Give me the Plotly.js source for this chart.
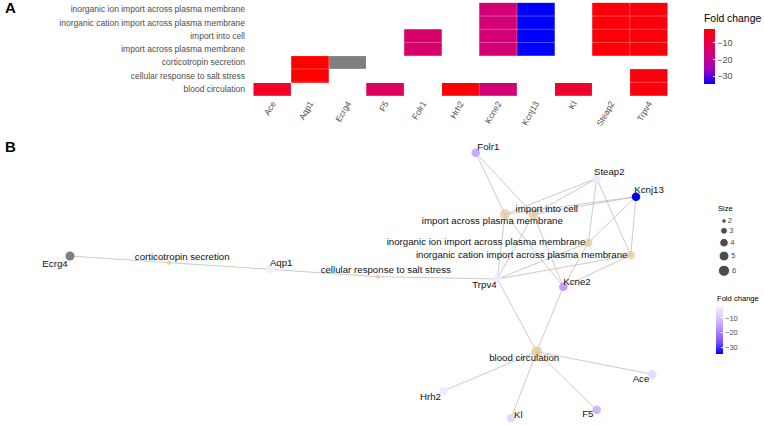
<!DOCTYPE html>
<html>
<head>
<meta charset="utf-8">
<script src="https://cdn.plot.ly/plotly-3.0.1.min.js"></script>
<style>html,body{margin:0;padding:0;background:#fff;}#chart{width:764px;height:425px;}</style>
</head>
<body>
<div id="chart"></div>
<script>
// ---------- data ----------
const terms = [
  'inorganic ion import across plasma membrane',
  'inorganic cation import across plasma membrane',
  'import into cell',
  'import across plasma membrane',
  'corticotropin secretion',
  'cellular response to salt stress',
  'blood circulation'
];
const genes = ['Ace','Aqp1','Ecrg4','F5','Folr1','Hrh2','Kcne2','Kcnj13','Kl','Steap2','Trpv4'];
const foldChange = [-6.0, -1.8, null, -12.5, -14.0, -2.5, -15.5, -34.7, -6.5, -2.8, -3.0];
const termGenes = [
  ['Kcne2','Kcnj13','Steap2','Trpv4'],
  ['Kcne2','Kcnj13','Steap2','Trpv4'],
  ['Folr1','Kcne2','Kcnj13','Steap2','Trpv4'],
  ['Folr1','Kcne2','Kcnj13','Steap2','Trpv4'],
  ['Aqp1','Ecrg4'],
  ['Aqp1','Trpv4'],
  ['Ace','F5','Hrh2','Kcne2','Kl','Trpv4']
];
const colorTicks = [-10, -20, -30];
const sizeLegendValues = [2, 3, 4, 5, 6];

// network layout (graph layout coordinates from the force layout)
const termNodeX  = [588.3, 630.7, 533.3, 505.0, 169.0, 377.7, 536.7];
const termNodeY  = [242.7, 255.3, 214.3, 214.3, 262.7, 276.7, 351.7];
const termLabelX = [486.0, 521.7, 546.8, 492.3, 182.2, 385.8, 524.2];
const termLabelY = [242.7, 255.7, 209.3, 221.7, 257.3, 271.0, 358.3];
const geneNodeX  = [652.3, 270.0, 70.0, 596.7, 475.7, 443.3, 563.3, 636.0, 511.0, 596.7, 497.3];
const geneNodeY  = [374.3, 269.3, 256.0, 410.0, 152.7, 391.0, 286.7, 196.7, 418.3, 178.3, 279.0];
const geneLabelX = [641.0, 281.2, 55.0, 587.8, 488.3, 430.5, 577.0, 649.0, 518.3, 609.3, 484.5];
const geneLabelY = [379.3, 264.0, 265.0, 414.3, 147.3, 397.3, 282.3, 191.0, 415.7, 172.7, 285.3];

// ---------- styles ----------
const W = 764, H = 425;
const FONT = 'Arial, "Liberation Sans", sans-serif';
const GRAY_TXT = '#4d4d4d';
const heatScale = [[0,'#0000FF'],[0.25,'rgb(154,0,195)'],[0.5,'rgb(202,0,137)'],[0.75,'rgb(229,0,77)'],[1,'#FF0000']];
const netScale  = [[0,'#0000FF'],[0.25,'rgb(126,81,255)'],[0.5,'rgb(179,139,255)'],[0.75,'rgb(220,197,255)'],[1,'rgb(243,239,255)']];
const fcVals = foldChange.filter(v => v !== null);
const fcMin = Math.min(...fcVals), fcMax = Math.max(...fcVals);
const sizePx = n => Math.sqrt(20 + 26 * (n - 2));
const px = v => v / W, py = v => 1 - v / H;

// ---------- heatmap ----------
const z = terms.map((t, i) => genes.map((g, j) => termGenes[i].includes(g) && foldChange[j] !== null ? foldChange[j] : null));
const zNA = terms.map((t, i) => genes.map((g, j) => termGenes[i].includes(g) && foldChange[j] === null ? 1 : null));

const traces = [];
traces.push({
  type: 'heatmap', x: genes, y: terms, z: z, xaxis: 'x', yaxis: 'y',
  colorscale: heatScale, zmin: fcMin, zmax: fcMax, hoverongaps: false,
  colorbar: {
    x: px(704), xanchor: 'left', y: py(29), yanchor: 'top',
    len: 55, lenmode: 'pixels', thickness: 11, thicknessmode: 'pixels',
    outlinewidth: 0, xpad: 0, ypad: 0, tickvals: colorTicks,
    ticks: 'inside', ticklen: 2, tickcolor: 'white',
    tickfont: {family: FONT, size: 9, color: GRAY_TXT}
  }
});
traces.push({
  type: 'heatmap', x: genes, y: terms, z: zNA, xaxis: 'x', yaxis: 'y',
  colorscale: [[0,'#7f7f7f'],[1,'#7f7f7f']], showscale: false, hoverongaps: false
});

// ---------- network ----------
const geneIdx = {}; genes.forEach((g, j) => geneIdx[g] = j);
const ex = [], ey = [];
termGenes.forEach((gl, i) => gl.forEach(g => {
  const j = geneIdx[g];
  ex.push(termNodeX[i], geneNodeX[j], null);
  ey.push(termNodeY[i], geneNodeY[j], null);
}));
traces.push({type:'scatter', mode:'lines', x: ex, y: ey, xaxis:'x2', yaxis:'y2',
  line: {color:'rgb(190,190,190)', width: 0.8}, hoverinfo:'skip', showlegend:false});
traces.push({type:'scatter', mode:'markers', x: termNodeX, y: termNodeY, xaxis:'x2', yaxis:'y2',
  marker: {color:'#E6C490', size: termGenes.map(g => sizePx(g.length)), line:{width:0}}, showlegend:false});
const okIdx = genes.map((g, j) => j).filter(j => foldChange[j] !== null);
const naIdx = genes.map((g, j) => j).filter(j => foldChange[j] === null);
traces.push({type:'scatter', mode:'markers', x: naIdx.map(j => geneNodeX[j]), y: naIdx.map(j => geneNodeY[j]),
  xaxis:'x2', yaxis:'y2', marker:{color:'#7f7f7f', size: 9, line:{width:0}}, showlegend:false});
traces.push({type:'scatter', mode:'markers', x: okIdx.map(j => geneNodeX[j]), y: okIdx.map(j => geneNodeY[j]),
  xaxis:'x2', yaxis:'y2',
  marker:{color: okIdx.map(j => foldChange[j]), colorscale: netScale, cmin: fcMin, cmax: fcMax, size: 8.5, line:{width:0},
    showscale: true,
    colorbar: {x: px(716), xanchor:'left', y: py(306), yanchor:'top', len: 48, lenmode:'pixels',
      thickness: 7, thicknessmode:'pixels', outlinewidth: 0, xpad: 0, ypad: 0, tickvals: colorTicks,
      ticks:'inside', ticklen: 1.5, tickcolor:'white',
      tickfont:{family: FONT, size: 7.5, color: GRAY_TXT}}},
  showlegend:false});
traces.push({type:'scatter', mode:'text', x: termLabelX.concat(geneLabelX), y: termLabelY.concat(geneLabelY),
  text: terms.concat(genes), xaxis:'x2', yaxis:'y2', textposition:'middle center',
  textfont:{family: FONT, size: 9.7, color:'#111'}, hoverinfo:'skip', showlegend:false});

// size legend
const sizeD = sizeLegendValues.map(sizePx);
const legY = []; let cy = 221;
sizeD.forEach((d, k) => { if (k > 0) cy += sizeD[k-1]/2 + d/2 + 4.2; legY.push(cy); });
traces.push({type:'scatter', mode:'markers+text', x: sizeLegendValues.map(() => 724), y: legY,
  xaxis:'x2', yaxis:'y2', marker:{color:'black', size: sizeD}, text: sizeLegendValues.map(String),
  textposition:'middle right', textfont:{family: FONT, size: 7.5, color: GRAY_TXT},
  hoverinfo:'skip', showlegend:false, cliponaxis:false});

// heatmap cell borders
const shapes = [];
for (let k = 1; k < genes.length; k++) shapes.push({type:'line', xref:'x', yref:'y', x0:k-0.5, x1:k-0.5, y0:-0.5, y1:terms.length-0.5, line:{color:'rgba(255,255,255,0.3)', width:1}});
for (let k = 1; k < terms.length; k++) shapes.push({type:'line', xref:'x', yref:'y', x0:-0.5, x1:genes.length-0.5, y0:k-0.5, y1:k-0.5, line:{color:'rgba(255,255,255,0.3)', width:1}});

const annotations = [
  {text:'<b>A</b>', x: px(3), y: py(8), xref:'paper', yref:'paper', xanchor:'left', yanchor:'middle', showarrow:false, font:{family: FONT, size: 15, color:'#000'}},
  {text:'<b>B</b>', x: px(3), y: py(146), xref:'paper', yref:'paper', xanchor:'left', yanchor:'middle', showarrow:false, font:{family: FONT, size: 15, color:'#000'}},
  {text:'Fold change', x: px(702), y: py(18), xref:'paper', yref:'paper', xanchor:'left', yanchor:'middle', showarrow:false, font:{family: FONT, size: 10.4, color:'#000'}},
  {text:'Fold change', x: px(715), y: py(298), xref:'paper', yref:'paper', xanchor:'left', yanchor:'middle', showarrow:false, font:{family: FONT, size: 7.6, color:'#000'}},
  {text:'Size', x: px(716), y: py(209), xref:'paper', yref:'paper', xanchor:'left', yanchor:'middle', showarrow:false, font:{family: FONT, size: 7.6, color:'#000'}}
];

const layout = {
  width: W, height: H, margin:{l:0, r:0, t:0, b:0},
  paper_bgcolor:'white', plot_bgcolor:'rgba(0,0,0,0)', showlegend:false,
  font:{family: FONT},
  xaxis:{domain:[px(253), px(668)], anchor:'y', type:'category', tickangle:-60, showgrid:false, zeroline:false,
    ticks:'', tickfont:{family: FONT, size: 8.5, color: GRAY_TXT}, showline:false, fixedrange:true},
  yaxis:{domain:[py(96), py(2.3)], anchor:'x', type:'category', autorange:'reversed', showgrid:false, zeroline:false,
    ticks:'', ticklabelstandoff: 7, tickfont:{family: FONT, size: 8.5, color: GRAY_TXT}, showline:false, fixedrange:true},
  xaxis2:{domain:[0,1], anchor:'y2', range:[0, W], visible:false, fixedrange:true},
  yaxis2:{domain:[0,1], anchor:'x2', range:[H, 0], visible:false, fixedrange:true},
  shapes: shapes, annotations: annotations
};
Plotly.newPlot('chart', traces, layout, {displayModeBar:false, staticPlot:true});
</script>
</body>
</html>
